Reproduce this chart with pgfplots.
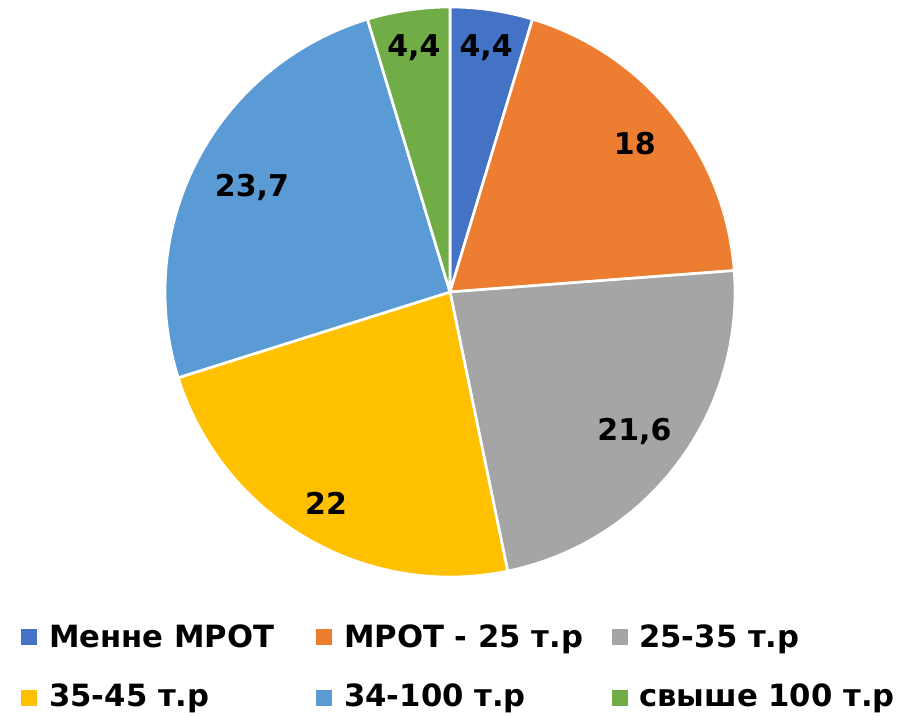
\documentclass[border=0pt]{standalone}
\usepackage{pgfplots}
\usepackage{pgfplotstable}
\pgfplotsset{compat=1.18}
\usepackage{fontspec}
\setmainfont{DejaVu Sans}
\definecolor{c1}{HTML}{4472C4}
\definecolor{c2}{HTML}{ED7D31}
\definecolor{c3}{HTML}{A5A5A5}
\definecolor{c4}{HTML}{FFC000}
\definecolor{c5}{HTML}{5B9BD5}
\definecolor{c6}{HTML}{70AD47}
\pgfplotstableread{
value color lr
4.4 c1 247
18 c2 237
21.6 c3 231
22 c4 245
23.7 c5 224
4.4 c6 247
}\piedata
\begin{document}
\begin{tikzpicture}
\begin{axis}[x=0.75pt,y=0.75pt,xmin=0,xmax=902,ymin=0,ymax=716,
  hide axis,clip=false,scale only axis]
\path (axis cs:0,0) rectangle (axis cs:902,716);
\gdef\total{0}
\pgfplotstableforeachcolumnelement{value}\of\piedata\as\v{%
  \pgfmathsetmacro\tmp{\total+\v}\global\let\total\tmp}
\gdef\ang{90}
\pgfplotstableforeachcolumnelement{value}\of\piedata\as\v{%
  \pgfplotstablegetelem{\pgfplotstablerow}{color}\of\piedata
  \let\col\pgfplotsretval
  \pgfplotstablegetelem{\pgfplotstablerow}{lr}\of\piedata
  \let\lr\pgfplotsretval
  \pgfmathsetmacro\endang{\ang-\v/\total*360}
  \pgfmathsetmacro\midang{(\ang+\endang)/2}
  \pgfmathsetmacro\lx{450+\lr*cos(\midang)}
  \pgfmathsetmacro\ly{424+\lr*sin(\midang)}
  \pgfmathprintnumberto[use comma,fixed,assume math mode=true]{\v}{\lab}
  \edef\temp{\noexpand\fill[\col, draw=white, line width=2pt, line join=round]
    (axis cs:450,424) -- ++(\ang:213.75pt)
    arc[start angle=\ang, end angle=\endang, radius=213.75pt] -- cycle;}
  \temp
  \edef\temp{\noexpand\node[font=\noexpand\fontsize{22.5}{27}\noexpand\selectfont\noexpand\bfseries]
    at (axis cs:\lx,\ly) {\lab};}
  \temp
  \global\let\ang\endang
}
% legend
\fill[c1] (axis cs:21,71) rectangle (axis cs:37,87);
\fill[c2] (axis cs:316,71) rectangle (axis cs:332,87);
\fill[c3] (axis cs:612,71) rectangle (axis cs:628,87);
\fill[c4] (axis cs:21,10) rectangle (axis cs:37,26);
\fill[c5] (axis cs:316,10) rectangle (axis cs:332,26);
\fill[c6] (axis cs:612,10) rectangle (axis cs:628,26);
\begin{scope}[every node/.style={anchor=base west,inner sep=0pt,font=\fontsize{23}{28}\selectfont\bfseries}]
\node at (axis cs:49,68) {Менне МРОТ};
\node at (axis cs:344,68) {МРОТ - 25 т.р};
\node at (axis cs:639,68) {25-35 т.р};
\node at (axis cs:49,9) {35-45 т.р};
\node at (axis cs:344,9) {34-100 т.р};
\node at (axis cs:639,9) {свыше 100 т.р};
\end{scope}
\end{axis}
\end{tikzpicture}
\end{document}
